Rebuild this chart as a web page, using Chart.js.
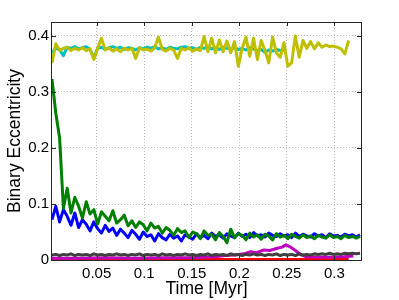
<!DOCTYPE html>
<html>
<head>
<meta charset="utf-8">
<script src="https://cdn.jsdelivr.net/npm/chart.js"></script>
<style>
  body { margin: 0; background: #fff; }
  #chart { display: block; }
</style>
</head>
<body>
<canvas id="chart" width="399" height="300"></canvas>
<script>
// Time axis (Myr) shared by most series
const t = [
  0.003, 0.007, 0.011, 0.015, 0.019, 0.023, 0.027, 0.031, 0.035, 0.039,
  0.043, 0.047, 0.051, 0.055, 0.059, 0.063, 0.067, 0.071, 0.075, 0.079,
  0.083, 0.087, 0.091, 0.095, 0.099, 0.103, 0.107, 0.111, 0.115, 0.119,
  0.123, 0.127, 0.131, 0.135, 0.139, 0.143, 0.147, 0.151, 0.155, 0.159,
  0.163, 0.167, 0.171, 0.175, 0.179, 0.183, 0.187, 0.191, 0.195, 0.199,
  0.203, 0.207, 0.211, 0.215, 0.219, 0.223, 0.227, 0.231, 0.235, 0.239,
  0.243, 0.247, 0.251, 0.255, 0.259, 0.263, 0.267, 0.271, 0.275, 0.279,
  0.283, 0.287, 0.291, 0.295, 0.299, 0.303, 0.307, 0.311, 0.315, 0.319,
  0.323, 0.327
];

// Binary eccentricity per run
const blue = [
  0.072, 0.096, 0.068, 0.090, 0.078, 0.062, 0.084, 0.058, 0.072, 0.064,
  0.052, 0.068, 0.056, 0.048, 0.062, 0.051, 0.057, 0.044, 0.055, 0.048,
  0.040, 0.053, 0.046, 0.037, 0.050, 0.042, 0.045, 0.034, 0.047, 0.040,
  0.036, 0.046, 0.039, 0.043, 0.034, 0.045, 0.041, 0.037, 0.047, 0.040,
  0.044, 0.038, 0.048, 0.042, 0.045, 0.039, 0.047, 0.043, 0.040, 0.048,
  0.042, 0.046, 0.040, 0.049, 0.043, 0.045, 0.041, 0.048, 0.044, 0.042,
  0.047, 0.043, 0.045, 0.040, 0.048, 0.042, 0.046, 0.043, 0.041, 0.047,
  0.043, 0.045, 0.040, 0.047, 0.043, 0.044, 0.041, 0.046, 0.043, 0.045,
  0.041, 0.045
];
const green = [
  0.323, 0.262, 0.218, 0.092, 0.128, 0.084, 0.112, 0.096, 0.075, 0.104,
  0.082, 0.090, 0.064, 0.086, 0.078, 0.070, 0.088, 0.066, 0.072, 0.080,
  0.061, 0.070, 0.058, 0.068, 0.063, 0.052, 0.066, 0.057, 0.060, 0.048,
  0.058, 0.053, 0.044, 0.056, 0.049, 0.052, 0.040, 0.050, 0.047, 0.038,
  0.052, 0.044, 0.046, 0.036, 0.049, 0.042, 0.031, 0.055, 0.040, 0.047,
  0.044, 0.036, 0.048, 0.041, 0.045, 0.037, 0.046, 0.043, 0.036, 0.047,
  0.041, 0.044, 0.038, 0.046, 0.042, 0.039, 0.045, 0.040, 0.043, 0.038,
  0.044, 0.041, 0.039, 0.045, 0.040, 0.042, 0.038, 0.044, 0.040, 0.042,
  0.039, 0.042
];
const tRed = [0.003, 0.05, 0.1, 0.15, 0.2, 0.25, 0.3, 0.315];
const red = [0.001, 0.001, 0.001, 0.001, 0.001, 0.001, 0.001, 0.001];
const cyan = [
  0.370, 0.378, 0.376, 0.365, 0.380, 0.378, 0.381, 0.377, 0.379, 0.381,
  0.376, 0.361, 0.378, 0.380, 0.376, 0.379, 0.381, 0.378, 0.380, 0.376,
  0.379, 0.378, 0.375, 0.379, 0.377, 0.380, 0.378, 0.381, 0.377, 0.379,
  0.376, 0.380, 0.378, 0.377, 0.380, 0.381, 0.378, 0.379, 0.376, 0.380,
  0.378, 0.381, 0.377, 0.379, 0.376, 0.380, 0.378, 0.377, 0.379, 0.376,
  0.378, 0.375, 0.379, 0.377, 0.374, 0.376, 0.371, 0.375, 0.373, 0.376,
  0.374, 0.375
];
const tMag = [0.003, 0.03, 0.06, 0.09, 0.12, 0.15, 0.175, 0.185, 0.195, 0.205,
  0.212, 0.218, 0.226, 0.232, 0.24, 0.245, 0.249, 0.254, 0.259, 0.265,
  0.27, 0.29, 0.31, 0.32];
const magenta = [0.003, 0.003, 0.004, 0.003, 0.004, 0.004, 0.006, 0.008, 0.009, 0.011,
  0.015, 0.013, 0.018, 0.017, 0.021, 0.023, 0.027, 0.023, 0.017, 0.009,
  0.006, 0.005, 0.006, 0.007];
const yellow = [
  0.352, 0.386, 0.374, 0.378, 0.380, 0.374, 0.378, 0.375, 0.379, 0.374,
  0.377, 0.358, 0.378, 0.396, 0.375, 0.379, 0.373, 0.377, 0.372, 0.378,
  0.375, 0.378, 0.360, 0.379, 0.375, 0.377, 0.373, 0.379, 0.398, 0.376,
  0.373, 0.378, 0.375, 0.360, 0.378, 0.375, 0.379, 0.373, 0.377, 0.374,
  0.399, 0.372, 0.396, 0.370, 0.393, 0.372, 0.391, 0.370, 0.390, 0.346,
  0.378, 0.398, 0.364, 0.396, 0.358, 0.392, 0.374, 0.352, 0.398, 0.370,
  0.362, 0.388, 0.346, 0.352, 0.400, 0.362, 0.392, 0.378, 0.390, 0.377,
  0.388, 0.380, 0.384, 0.381, 0.382, 0.380, 0.377, 0.368, 0.392
];
const gray = [
  0.009, 0.010, 0.008, 0.010, 0.009, 0.011, 0.008, 0.010, 0.009, 0.010,
  0.008, 0.011, 0.009, 0.010, 0.008, 0.010, 0.009, 0.011, 0.009, 0.010,
  0.008, 0.010, 0.009, 0.011, 0.008, 0.010, 0.009, 0.010, 0.008, 0.011,
  0.009, 0.010, 0.008, 0.010, 0.009, 0.011, 0.009, 0.010, 0.008, 0.010,
  0.009, 0.011, 0.008, 0.010, 0.009, 0.010, 0.008, 0.011, 0.009, 0.010,
  0.008, 0.010, 0.009, 0.011, 0.009, 0.010, 0.008, 0.010, 0.009, 0.011,
  0.008, 0.010, 0.009, 0.010, 0.008, 0.011, 0.009, 0.010, 0.009, 0.011,
  0.010, 0.011, 0.010, 0.012, 0.010, 0.011, 0.010, 0.012, 0.011, 0.012,
  0.011, 0.012
];

// Tick labels
const xTicks = [0.05, 0.1, 0.15, 0.2, 0.25, 0.3];
const yTicks = [0, 0.1, 0.2, 0.3, 0.4];

function pts(xs, ys) {
  return ys.map((y, i) => ({ x: xs[i], y: y }));
}

// MATLAB plot order: later series drawn on top
function line(xs, ys, color, order) {
  return {
    data: pts(xs, ys),
    borderColor: color,
    borderWidth: 3,
    pointRadius: 0,
    tension: 0,
    borderJoinStyle: 'round',
    fill: false,
    order: order
  };
}

// frame and inward tick marks
const frame = {
  id: 'frame',
  afterDraw(chart) {
    const { ctx, chartArea: a, scales } = chart;
    ctx.save();
    ctx.strokeStyle = '#262626';
    ctx.lineWidth = 1;
    ctx.beginPath();
    xTicks.forEach(v => {
      const px = Math.round(scales.x.getPixelForValue(v)) + 0.5;
      ctx.moveTo(px, a.bottom); ctx.lineTo(px, a.bottom - 4);
      ctx.moveTo(px, a.top); ctx.lineTo(px, a.top + 4);
    });
    yTicks.forEach(v => {
      const py = Math.round(scales.y.getPixelForValue(v)) + 0.5;
      ctx.moveTo(a.left, py); ctx.lineTo(a.left + 4, py);
      ctx.moveTo(a.right, py); ctx.lineTo(a.right - 4, py);
    });
    ctx.stroke();
    ctx.strokeRect(a.left - 0.5, a.top + 0.5, a.right - a.left + 1, a.bottom - a.top);
    ctx.restore();
  }
};

const font = 'Liberation Sans, Arial, Helvetica, sans-serif';

const ctx = document.getElementById('chart').getContext('2d');
new Chart(ctx, {
  type: 'line',
  data: {
    datasets: [
      line(t, blue, '#0000ff', 7),
      line(t, green, '#008000', 6),
      line(tRed, red, '#ff0000', 5),
      line(t, cyan, '#00bfbf', 4),
      line(tMag, magenta, '#bf00bf', 3),
      line(t, yellow, '#bfbf00', 2),
      line(t, gray, '#404040', 1)
    ]
  },
  options: {
    responsive: false,
    devicePixelRatio: 1,
    animation: false,
    layout: { padding: { top: 22, right: 38, left: 0, bottom: 0 } },
    plugins: {
      legend: { display: false },
      tooltip: { enabled: false }
    },
    scales: {
      x: {
        type: 'linear',
        min: 0.003,
        max: 0.328,
        afterBuildTicks: s => { s.ticks = xTicks.map(v => ({ value: v })); },
        afterFit: s => { s.height = 40; },
        grid: { color: '#b8b8b8', drawTicks: false, borderDash: [1, 2] },
        border: { display: false, dash: [1, 2] },
        ticks: {
          padding: 5,
          maxRotation: 0,
          autoSkip: false,
          color: '#000',
          font: { family: font, size: 15 },
          callback: v => String(v)
        },
        title: {
          display: true,
          text: 'Time [Myr]',
          color: '#000',
          padding: 0,
          font: { family: font, size: 17.5 }
        }
      },
      y: {
        min: 0,
        max: 0.425,
        afterBuildTicks: s => { s.ticks = yTicks.map(v => ({ value: v })); },
        afterFit: s => { s.width = 52; },
        grid: { color: '#b8b8b8', drawTicks: false, borderDash: [1, 2] },
        border: { display: false, dash: [1, 2] },
        ticks: {
          padding: 3,
          autoSkip: false,
          color: '#000',
          font: { family: font, size: 15 },
          callback: v => String(v)
        },
        title: {
          display: true,
          text: 'Binary Eccentricity',
          color: '#000',
          padding: { top: 5, bottom: 0 },
          font: { family: font, size: 17.5 }
        }
      }
    }
  },
  plugins: [frame]
});
</script>
</body>
</html>
